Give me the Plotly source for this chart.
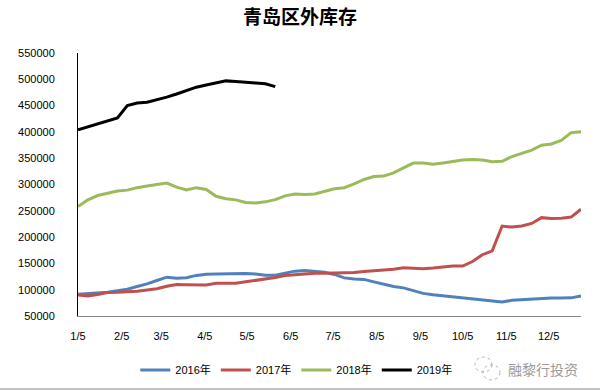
import datetime as dt
import plotly.graph_objects as go

# Weekly observation dates (plotted on a common calendar year)
start = dt.date(2019, 1, 5)
dates = [(start + dt.timedelta(days=7 * i)).isoformat() for i in range(52)]

tick_vals = [dt.date(2019, m, 5).isoformat() for m in range(1, 13)]
tick_text = [f"{m}/5" for m in range(1, 13)]

y_ticks = list(range(50000, 550001, 50000))

s2016 = [91.2, 92.5, 93.7, 95.3, 98, 101, 106, 111, 117.5, 123.8, 122, 122.9, 127.2,
         129.5, 129.9, 130.3, 130.6, 131, 130, 127.7, 127.3, 130.8, 135.3, 136.4, 135.2,
         133.3, 129, 122.5, 120.5, 119.6, 114.8, 109.8, 106, 103.5, 98.9, 93, 90.2, 88.2,
         86, 83.4, 81.8, 80.8, 78, 76.6, 79.9, 81.2, 82, 83.8, 84.2, 84.2, 84.5, 88]
s2017 = [90, 88.2, 91, 94.5, 95, 95.5, 97, 99.4, 102, 106.4, 110, 109.5, 108.8, 109,
         112.3, 112, 112.2, 115, 117.5, 119.4, 123, 127, 128.5, 130, 131.2, 131.3, 131.3,
         131.6, 132.5, 134.4, 136, 137, 139, 141.8, 141, 140, 141.2, 143.4, 145, 145,
         153.5, 166.5, 174, 221, 219, 221, 226, 237, 235.5, 236, 238, 253]
s2018 = [258, 271, 279, 283, 287.5, 289.3, 294, 297, 300, 302.8, 295, 289.5, 294, 290.6,
         277.6, 273, 270.8, 265.7, 264.7, 267, 271.3, 278.4, 281.8, 280.8, 282, 287.2, 292,
         294, 301, 309.6, 315, 316, 322, 331.7, 340.7, 340.8, 338.5, 341, 343.8, 346.5,
         347.6, 346.7, 343.3, 344, 353.2, 359.2, 365.3, 374.7, 377, 383.6, 398.6, 400.4]
s2019 = [404, 409.5, 415, 421, 426.5, 450, 455, 456.5, 461, 466, 472, 478, 485, 489,
         493, 497, 496, 495, 493, 491.5, 486]

series = [
    ("2016年", s2016, "#4F81BD"),
    ("2017年", s2017, "#C0504D"),
    ("2018年", s2018, "#9BBB59"),
    ("2019年", s2019, "#000000"),
]

fig = go.Figure()
for name, vals, color in series:
    fig.add_trace(go.Scatter(
        x=dates[:len(vals)], y=[v * 1000 for v in vals], name=name, mode="lines",
        line=dict(color=color, width=3),
    ))

font_fam = "Liberation Sans, Arial, Noto Sans CJK SC, sans-serif"
fig.update_layout(
    width=600, height=391,
    margin=dict(l=78, r=19, t=53, b=75, autoexpand=False),
    paper_bgcolor="white", plot_bgcolor="white",
    font=dict(family=font_fam, size=11, color="#000000"),
    title=dict(text="<b>青岛区外库存</b>", x=0.5, xanchor="center", y=0.955, yanchor="middle",
               font=dict(family="Noto Sans CJK SC", size=19, color="#000000")),
    showlegend=True,
    legend=dict(orientation="h", x=0.434, xanchor="center", y=-0.205, yanchor="middle",
                font=dict(family=font_fam, size=11, color="#000000"),
                itemwidth=30, tracegroupgap=0),
    xaxis=dict(type="date", range=[dates[0], dates[-1]], tickvals=tick_vals, ticktext=tick_text,
               showgrid=False, zeroline=False, showline=True, linecolor="#868686", linewidth=1,
               ticks="outside", ticklen=10, tickcolor="rgba(0,0,0,0)", automargin=False,
               tickfont=dict(family=font_fam, size=11, color="#000000")),
    yaxis=dict(range=[50000, 550000], tickvals=y_ticks, ticktext=[str(v) for v in y_ticks],
               showgrid=False, zeroline=False, showline=True, linecolor="#000000", linewidth=1,
               ticks="outside", ticklen=20, tickcolor="rgba(0,0,0,0)", automargin=False,
               tickfont=dict(family=font_fam, size=11, color="#000000")),
)

# watermark
fig.add_annotation(text="融黎行投资", xref="paper", yref="paper", x=0.998, y=-0.2015,
                   xanchor="right", yanchor="middle", showarrow=False,
                   font=dict(family="Noto Sans CJK SC", size=14, color="#9a9a9a"))
fig.add_shape(type="circle", xref="paper", yref="paper", x0=0.789, x1=0.823, y0=-0.213, y1=-0.156,
              line=dict(color="#b0b0b0", width=1, dash="dot"))
fig.add_shape(type="circle", xref="paper", yref="paper", x0=0.805, x1=0.839, y0=-0.243, y1=-0.186,
              line=dict(color="#b0b0b0", width=1, dash="dot"))
# bottom border line
fig.add_shape(type="line", xref="paper", yref="paper", x0=-0.16, x1=1.04, y0=-0.2776, y1=-0.2776,
              line=dict(color="#888888", width=1))

fig.write_html("out.html", config={"displayModeBar": False},
               post_script="document.body.style.margin='0px';")
